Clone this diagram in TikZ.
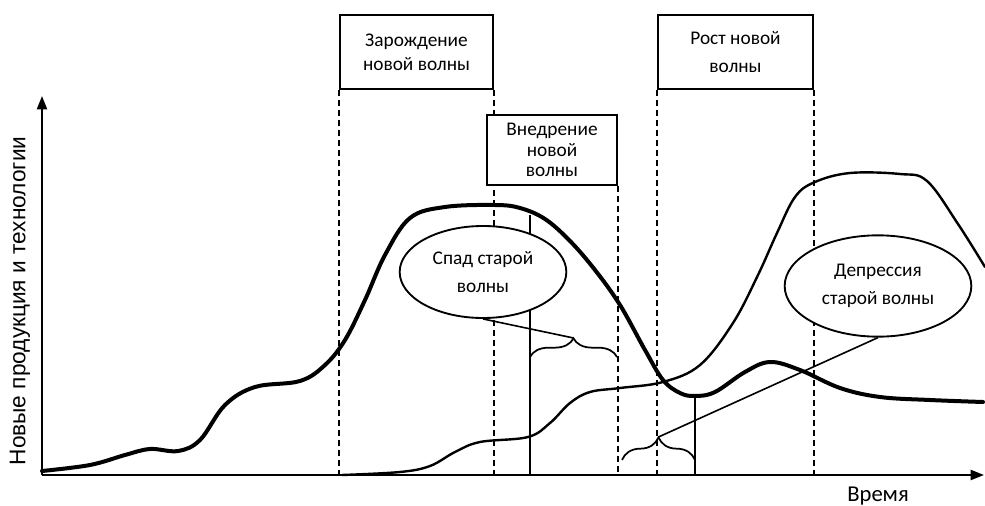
\documentclass[tikz,border=0pt]{standalone}
\usepackage{fontspec}
\setmainfont{Carlito}
\newfontfamily\lsans{Liberation Sans}
\usetikzlibrary{arrows.meta,shapes.geometric,decorations.pathreplacing}
\begin{document}
\begin{tikzpicture}[x=0.75pt,y=-0.75pt,
  axisline/.style={line width=1.6pt,-{Triangle[length=10pt,width=7.5pt]}},
  oldwave/.style={line width=3pt,line join=round,line cap=round},
  newwave/.style={line width=1.8pt,line join=round,line cap=round},
  dline/.style={line width=1.8pt,dash pattern=on 4.5pt off 3pt},
  sline/.style={line width=1.4pt},
  stagebox/.style={draw,line width=1.6pt,fill=white,align=center,inner sep=0pt,
    font=\fontsize{14.5}{18}\selectfont},
  phase/.style={ellipse,draw,line width=1.4pt,fill=white,align=center,inner sep=0pt,
    font=\fontsize{14.5}{20.5}\selectfont},
  bracket/.style={decorate,line width=1.3pt},
  txtlabel/.style={inner sep=0pt}]
\useasboundingbox (0,0) rectangle (985,506);
\fill[white] (0,0) rectangle (985,506);

% axes
\coordinate (o) at (42,475);
\coordinate (ytop) at (42,96);
\coordinate (xend) at (984,475);

% stage boxes (positions)
\path (416.5,52) node[stagebox,minimum width=115pt,minimum height=55.5pt] (b1) {Зарождение\\новой волны};
\path (735.5,52) node[stagebox,minimum width=116pt,minimum height=55.5pt] (b3) {Рост новой\\[3.5pt]волны};

% dashed verticals
\draw[dline] (b1.south west) -- (b1.south west |- o);
\draw[dline] (b1.south east) -- (b1.south east |- o);
\draw[dline] (b3.south west) -- (b3.south west |- o);
\draw[dline] (b3.south east) -- (b3.south east |- o);

% box 2
\path (552,150) node[stagebox,minimum width=97.5pt,minimum height=52.5pt,
  font=\fontsize{14.5}{15.3}\selectfont] (b2) {Внедрение\\новой\\волны};
\draw[dline] (b2.south east) -- (b2.south east |- o);

% solid verticals
\coordinate (s1top) at (530,215);
\coordinate (s2top) at (695,396);
\draw[sline] (s1top) -- (s1top |- o);
\draw[sline] (s2top) -- (s2top |- o);

% new wave (thin)
\draw[newwave] plot[smooth,tension=0.6] coordinates {
  (342,475) (400,472) (430,466) (455,452) (480,442) (528,437) (550,423)
  (570,403) (590,392) (620,388) (663,382) (700,365) (733,323) (758,275)
  (777,233) (795,197) (815,182) (850,173) (900,174) (927,181) (958,224) (985,267)};

% old wave (thick)
\draw[oldwave] plot[smooth,tension=0.6] coordinates {
  (42,471) (90,465) (125,455) (150,449) (178,451) (200,440) (225,405)
  (255,387) (300,381) (325,365) (345,340) (365,300) (385,255) (410,218)
  (445,207) (495,205) (520,208) (545,219) (570,241) (595,270) (620,305)
  (645,350) (663,380) (680,393) (695,396) (715,392) (745,372) (770,362)
  (800,370) (840,388) (880,397) (930,400) (983,402)};

% axes on top
\draw[axisline] (o) -- (ytop);
\draw[axisline] (o) -- (xend);

% ellipses
\node[phase,minimum width=125pt,minimum height=69pt] (sp) at (483,272) {Спад старой\\волны};
\node[phase,minimum width=140pt,minimum height=76pt] (dep) at (878,286) {Депрессия\\старой волны};

% braces
\coordinate (br1a) at (530,357);
\coordinate (br1b) at (617,357);
\coordinate (tip1) at (573.5,338);
\draw[bracket,decoration={brace,amplitude=14pt}] (br1a) -- (br1b);
\coordinate (br2a) at (622,460);
\coordinate (br2b) at (695,460);
\coordinate (tip2) at (658.5,437);
\draw[bracket,decoration={brace,amplitude=17pt}] (br2a) -- (br2b);

% leader lines
\draw[sline,line width=1.2pt] (sp.south) -- (tip1);
\draw[sline,line width=1.2pt] (tip2) -- (dep.south);

% labels
\node[txtlabel,rotate=90,font=\lsans\fontsize{17}{20}\selectfont] (ylab) at (20,301) {Новые продукция и технологии};
\node[txtlabel,font=\fontsize{17}{20}\selectfont] (xlab) at (878,496) {Время};
\end{tikzpicture}
\end{document}
